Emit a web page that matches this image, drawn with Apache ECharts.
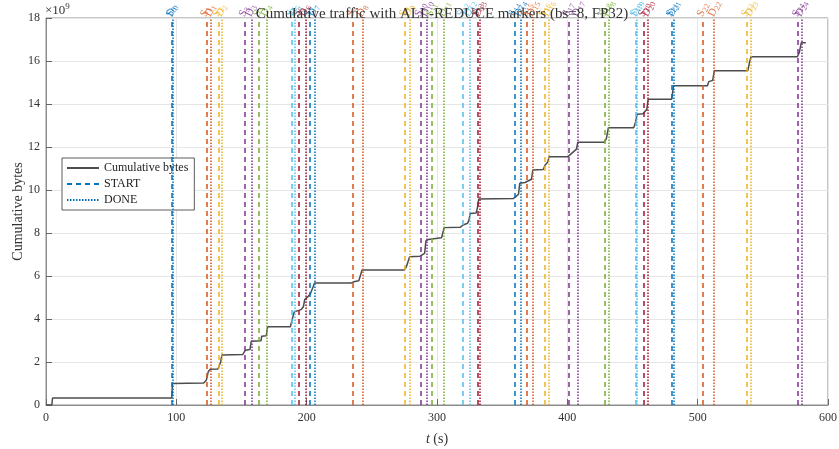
<!DOCTYPE html>
<html>
<head>
<meta charset="utf-8">
<script src="https://cdn.jsdelivr.net/npm/echarts@6/dist/echarts.min.js"></script>
<style>
  html, body { margin: 0; padding: 0; background: #fff; }
  #chart { width: 839px; height: 449px; }
</style>
</head>
<body>
<div id="chart"></div>
<script>
// cumulative traffic, bytes in units of 1e9
var cumTime = [0, 4.5, 5, 96.5, 97, 121, 123, 124.5, 126, 132, 134, 135, 151, 153, 156.5, 157.5, 165, 165.5, 169, 170,
  187.5, 189, 190.5, 194, 196, 197.5, 198.5, 199.5, 201, 203, 205, 206, 234, 236, 240, 242.5, 275, 276.5, 278, 279,
  287, 288, 290.5, 291.5, 293.5, 296, 303.5, 305.5, 318, 320, 323.5, 324.5, 325.5, 330, 331, 332, 358.5, 360.5,
  362.5, 363.5, 367.5, 369, 372.5, 373.5, 381.5, 383, 385, 386, 400.5, 402, 407, 408, 428.5, 430, 431.5, 451,
  452.5, 453.5, 458, 459, 461, 462, 480, 481.5, 507.5, 508.5, 511.5, 512.8, 538.5, 540, 541, 576.5, 578, 579.5, 583];
var cumBytes = [0, 0, 0.32, 0.32, 1.0, 1.02, 1.15, 1.55, 1.66, 1.68, 2.0, 2.33, 2.35, 2.55, 2.58, 2.97, 2.99, 3.2, 3.22, 3.64,
  3.64, 4.0, 4.34, 4.4, 4.45, 4.57, 4.9, 4.98, 5.04, 5.2, 5.5, 5.67, 5.67, 5.73, 5.78, 6.28, 6.28, 6.43, 6.5, 6.9,
  6.92, 6.98, 7.05, 7.63, 7.7, 7.72, 7.78, 8.25, 8.27, 8.37, 8.45, 8.6, 8.91, 8.93, 9.16, 9.58, 9.6, 9.69,
  9.8, 10.31, 10.35, 10.39, 10.5, 10.93, 10.95, 11.16, 11.3, 11.55, 11.55, 11.6, 11.9, 12.22, 12.22, 12.4, 12.9, 12.9,
  13.2, 13.52, 13.55, 13.64, 13.75, 14.22, 14.22, 14.85, 14.85, 15.04, 15.1, 15.55, 15.55, 16.0, 16.2, 16.2, 16.4, 16.85, 16.85];

// ALL-REDUCE marker times (s), index i -> S_i / D_i
var startTimes = [96.5, 123, 132.5, 152.5, 163.5, 188.8, 194, 202.5, 235.5, 275.5, 287.5, 296, 320,
  331, 359.5, 369, 382.3, 400.8, 429, 452.5, 459, 480.2, 504, 538, 577];
var doneTimes = [97.2, 126.5, 135, 157.5, 169.5, 191, 199, 206, 243, 279, 292, 305.5, 325,
  332.5, 364, 373.5, 385.8, 408, 431.5, 453.5, 462, 481.4, 512.6, 540.8, 579.5];

var palette = ['#0072BD', '#D95319', '#EDB120', '#7E2F8E', '#77AC30', '#4DBEEE', '#A2142F'];
var serif = '"Liberation Serif", "DejaVu Serif", serif';

var chart = echarts.init(document.getElementById('chart'));

function markLines(times) {
  return times.map(function (t, i) {
    return { xAxis: t, lineStyle: { color: palette[i % palette.length] } };
  });
}

function labelPoints(times, letter) {
  return times.map(function (t, i) {
    var c = palette[i % palette.length];
    return {
      value: [t, 18],
      label: {
        formatter: '{s|' + letter + '}{n|' + i + '}',
        rich: {
          s: { fontFamily: serif, fontSize: 11, color: c },
          n: { fontFamily: serif, fontSize: 8, color: c, padding: [5, 0, 0, 0] }
        }
      }
    };
  });
}

var series = [{
  name: 'Cumulative bytes',
  type: 'line',
  data: cumTime.map(function (t, i) { return [t, cumBytes[i]]; }),
  symbol: 'none',
  color: '#4d4d4d',
  lineStyle: { color: '#4d4d4d', width: 1.5 },
  z: 2
}, {
  name: 'START',
  type: 'line',
  data: [],
  symbol: 'none',
  color: '#0072BD',
  lineStyle: { color: '#0072BD', width: 1.5, type: [5, 4] },
  markLine: {
    silent: true,
    symbol: ['none', 'none'],
    label: { show: false },
    lineStyle: { width: 1.5, type: [5, 4] },
    data: markLines(startTimes)
  },
  z: 3
}, {
  name: 'DONE',
  type: 'line',
  data: [],
  symbol: 'none',
  color: '#0072BD',
  lineStyle: { color: '#0072BD', width: 1.5, type: [1.5, 1.5] },
  markLine: {
    silent: true,
    symbol: ['none', 'none'],
    label: { show: false },
    lineStyle: { width: 1.5, type: [1.5, 1.5] },
    data: markLines(doneTimes)
  },
  z: 3
}, {
  name: 'S labels',
  type: 'scatter',
  symbolSize: 0,
  silent: true,
  data: labelPoints(startTimes, 'S'),
  label: { show: true, position: [-3, -2], align: 'left', verticalAlign: 'middle', rotate: 65 },
  z: 4
}, {
  name: 'D labels',
  type: 'scatter',
  symbolSize: 0,
  silent: true,
  data: labelPoints(doneTimes, 'D'),
  label: { show: true, position: [-3, -2], align: 'left', verticalAlign: 'middle', rotate: 65 },
  z: 4
}];

chart.setOption({
  animation: false,
  backgroundColor: '#fff',
  textStyle: { fontFamily: serif },
  title: {
    text: 'Cumulative traffic with ALL-REDUCE markers (bs=8, FP32)',
    left: 437, top: 2, textAlign: 'center',
    textStyle: { fontFamily: serif, fontSize: 15, fontWeight: 'normal', color: '#333' }
  },
  grid: {
    left: 46, right: 11, top: 18, bottom: 44,
    outerBoundsMode: 'none',
    show: true, borderColor: '#8c8c8c', borderWidth: 1
  },
  legend: {
    data: ['Cumulative bytes', 'START', 'DONE'],
    orient: 'vertical',
    left: 62, top: 158,
    itemWidth: 32, itemHeight: 10, itemGap: 4,
    padding: [4, 6, 4, 4],
    backgroundColor: '#fff',
    borderColor: '#333', borderWidth: 0.8,
    itemStyle: { opacity: 0 },
    textStyle: { fontFamily: serif, fontSize: 12, color: '#222' }
  },
  xAxis: {
    type: 'value', min: 0, max: 600, interval: 100,
    name: '{i|t} (s)', nameLocation: 'middle', nameGap: 27, nameMoveOverlap: false,
    nameTextStyle: { fontFamily: serif, fontSize: 14, color: '#333', rich: { i: { fontFamily: serif, fontStyle: 'italic', fontSize: 14, color: '#333' } } },
    axisLine: { lineStyle: { color: '#8c8c8c' } },
    axisTick: { inside: true, length: 6, lineStyle: { color: '#666' } },
    axisLabel: { fontFamily: serif, fontSize: 12, color: '#333', margin: 7 },
    splitLine: { show: true, lineStyle: { color: '#e6e6e6' } }
  },
  yAxis: {
    type: 'value', min: 0, max: 18, interval: 2,
    name: 'Cumulative bytes', nameLocation: 'middle', nameGap: 21, nameMoveOverlap: false,
    nameTextStyle: { fontFamily: serif, fontSize: 14, color: '#333' },
    axisLine: { show: true, lineStyle: { color: '#8c8c8c' } },
    axisTick: { show: true, inside: true, length: 6, lineStyle: { color: '#666' } },
    axisLabel: { fontFamily: serif, fontSize: 12, color: '#333', margin: 6 },
    splitLine: { show: true, lineStyle: { color: '#e6e6e6' } }
  },
  graphic: [{
    type: 'text', left: 45, top: 2,
    style: {
      text: '{a|×10}{b|9}',
      rich: {
        a: { fontFamily: serif, fontSize: 13, fill: '#333' },
        b: { fontFamily: serif, fontSize: 9, fill: '#333', padding: [0, 0, 8, 0] }
      }
    }
  }],
  series: series
});
</script>
</body>
</html>
